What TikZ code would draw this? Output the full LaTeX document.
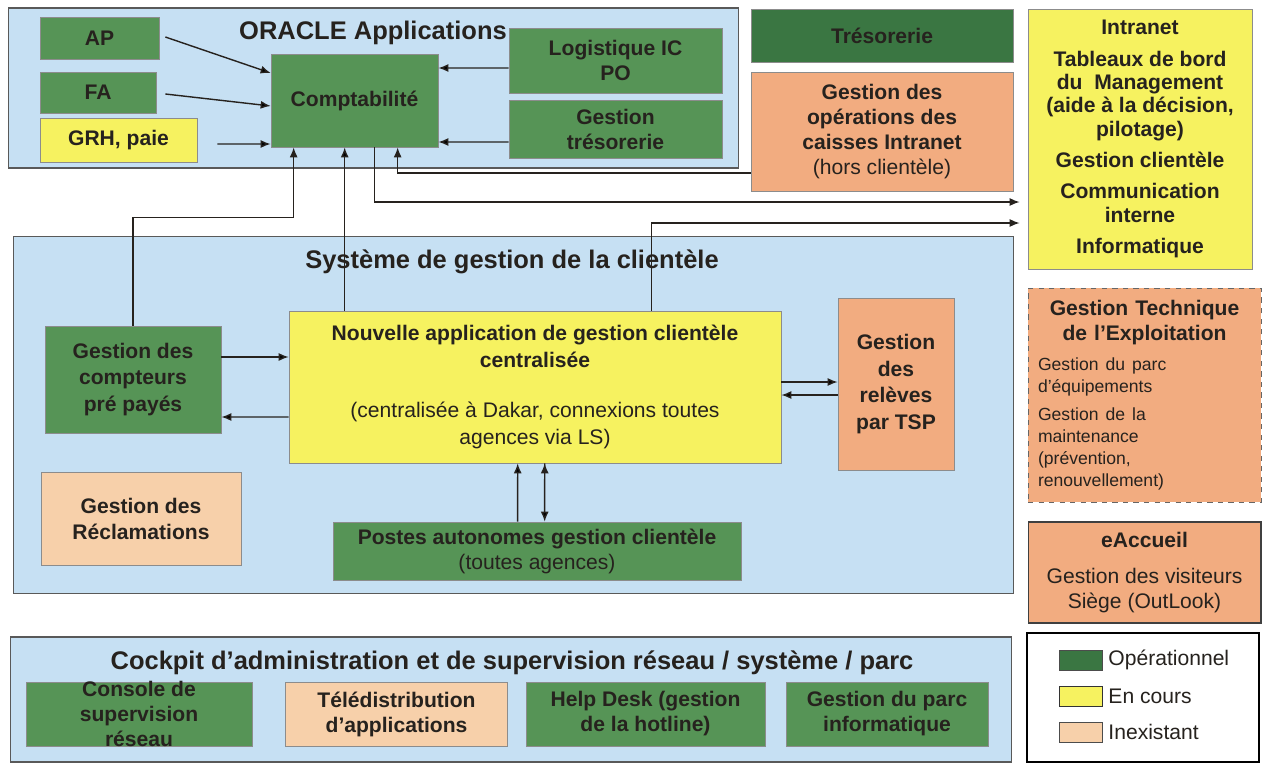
\documentclass[tikz,border=0pt]{standalone}
\usepackage{fontspec}
\setmainfont{Liberation Sans}
\usetikzlibrary{calc,arrows.meta,positioning}

\definecolor{opgreen}{RGB}{86,148,86}
\definecolor{opdark}{RGB}{58,118,66}
\definecolor{ecyellow}{RGB}{246,242,96}
\definecolor{inorange}{RGB}{242,172,128}
\definecolor{inpeach}{RGB}{247,208,170}
\definecolor{zoneblue}{RGB}{198,224,243}
\definecolor{txt}{RGB}{38,34,30}
\newcommand{\petitfont}{\fontsize{10}{12.5}\selectfont\mdseries}

\begin{document}
\begin{tikzpicture}[x=0.02cm, y=-0.02cm, text=txt,
    font=\fontsize{12}{14.2}\selectfont\bfseries,
    >={Latex[length=2mm,width=1.6mm]},
    bloc/.style={draw=black!45, line width=0.4pt, inner sep=2pt, align=center},
    opbox/.style={bloc, fill=opgreen},
    ecbox/.style={bloc, fill=ecyellow},
    inbox/.style={bloc, fill=inorange},
    pebox/.style={bloc, fill=inpeach},
    zone/.style={draw=black!65, line width=0.6pt, fill=zoneblue},
    titre/.style={font=\fontsize{14.5}{17}\selectfont\bfseries},
    fl/.style={->, line width=0.8pt, draw=txt},
    swatch/.style={draw=black!70, minimum width=0.86cm, minimum height=0.4cm, inner sep=0pt},
    legtxt/.style={inner sep=1pt, font=\fontsize{12}{14}\selectfont\mdseries}]
  \useasboundingbox (0,0) rectangle (1264,764);

  \node[zone, minimum width=14.62cm, minimum height=3.2cm] (oracle) at (373.5,88) {};
  \node[titre] (toracle) at (373,33) {ORACLE Applications};
  \node[zone, minimum width=20.02cm, minimum height=7.16cm] (sgc) at (513.5,415) {};
  \node[titre] (tsgc) at (512,262) {Système de gestion de la clientèle};
  \node[zone, minimum width=20.04cm, minimum height=2.5cm] (cockpit) at (511,699.5) {};
  \node[titre] (tcockpit) at (512,663) {Cockpit d'administration et de supervision réseau / système / parc};

  \node[opbox, minimum width=2.38cm, minimum height=0.84cm] (ap) at (99.5,38) {AP};
  \node[opbox, minimum width=2.32cm, minimum height=0.82cm] (fa) at (98,92.5) {FA};
  \node[ecbox, minimum width=3.14cm, minimum height=0.88cm] (grh) at (118.5,140) {GRH, paie};
  \node[opbox, minimum width=3.34cm, minimum height=1.86cm] (compta) at (354.5,100.5) {Comptabilité};
  \node[opbox, minimum width=4.26cm, minimum height=1.3cm] (logis) at (615.5,60.5) {Logistique IC\\PO};
  \node[opbox, minimum width=4.26cm, minimum height=1.16cm] (gtreso) at (615.5,129) {Gestion\\trésorerie};

  \node[opbox, fill=opdark, minimum width=5.24cm, minimum height=1.06cm] (treso) at (882,35.5) {Trésorerie};
  \node[inbox, minimum width=5.24cm, minimum height=2.38cm] (caisses) at (882,131.5)
    {Gestion des\\opérations des\\caisses Intranet\\\mdseries (hors clientèle)};
  \node[ecbox, minimum width=4.48cm, minimum height=5.2cm, font=\fontsize{12}{13.3}\selectfont\bfseries] (intra) at (1140,139)
    {Intranet\\[4.5pt]Tableaux de bord\\du~ Management\\(aide à la décision,\\pilotage)\\[4.5pt]Gestion clientèle\\[4.5pt]Communication\\interne\\[4.5pt]Informatique};

  \node[opbox, minimum width=3.52cm, minimum height=2.14cm, font=\fontsize{12}{15}\selectfont\bfseries] (cpt) at (133,379.5)
    {Gestion des\\compteurs\\pré payés};
  \node[ecbox, minimum width=9.84cm, minimum height=3.04cm, font=\fontsize{12}{15.3}\selectfont\bfseries] (nouvelle) at (535,387)
    {Nouvelle application de gestion clientèle\\centralisée\\[13.5pt]\mdseries (centralisée à Dakar, connexions toutes\\\mdseries agences via LS)};
  \node[inbox, minimum width=2.32cm, minimum height=3.44cm, font=\fontsize{12}{15.3}\selectfont\bfseries] (tsp) at (896,384)
    {Gestion\\des\\relèves\\par TSP};
  \node[pebox, minimum width=4.0cm, minimum height=1.86cm, font=\fontsize{12}{14.8}\selectfont\bfseries] (reclam) at (141,518.5)
    {Gestion des\\Réclamations};
  \node[opbox, minimum width=8.16cm, minimum height=1.16cm] (postes) at (537,551)
    {Postes autonomes gestion clientèle\\\mdseries (toutes agences)};

  \node[inbox, dashed, draw=black!60, minimum width=4.66cm, minimum height=4.28cm, text width=4.26cm, align=left] (gtech) at (1144.5,395)
    {{\centering Gestion Technique\\de l'Exploitation\par}\vspace{4.5pt}{\petitfont Gestion du parc\\d'équipements\par}\vspace{3.5pt}{\petitfont Gestion de la\\maintenance\\(prévention,\\renouvellement)\par}};
  \node[inbox, draw=black!75, line width=0.6pt, minimum width=4.66cm, minimum height=2.02cm] (eaccueil) at (1144.5,572.5)
    {eAccueil\\[6.5pt]\mdseries Gestion des visiteurs\\\mdseries Siège (OutLook)};

  \node[opbox, minimum width=4.52cm, minimum height=1.28cm,
    label={[align=center, text=txt]center:Console de\\supervision\\réseau}] (console) at (139,714) {};
  \node[pebox, minimum width=4.44cm, minimum height=1.28cm] (teledis) at (396.5,714) {Télédistribution\\d'applications};
  \node[opbox, minimum width=4.78cm, minimum height=1.28cm] (helpdesk) at (645.5,714) {Help Desk (gestion\\de la hotline)};
  \node[opbox, minimum width=4.04cm, minimum height=1.28cm] (gparc) at (887,714) {Gestion du parc\\informatique};

  \node[draw=black, line width=0.9pt, fill=white, minimum width=4.64cm, minimum height=2.58cm] (leg) at (1143,697.5) {};
  \node[swatch, fill=opdark] (s1) at (1080.5,660) {};
  \node[swatch, fill=ecyellow, draw=black!80] (s2) at (1080.5,696) {};
  \node[swatch, fill=inpeach] (s3) at (1080.5,732) {};
  \node[legtxt, right=0.08cm of s1] (l1) {Opérationnel};
  \node[legtxt, right=0.08cm of s2] (l2) {En cours};
  \node[legtxt, right=0.08cm of s3] (l3) {Inexistant};

  \coordinate (k1) at ($(compta.south west)+(23,70)$);
  \coordinate (k2) at ($(nouvelle.north west)+(56,0)$);
  \coordinate (k3) at ($(compta.south west)+(104,0)$);
  \coordinate (k4) at ($(compta.south west)+(127,0)$);
  \coordinate (k5) at ($(nouvelle.north west)+(363,0)$);

  \path[fl]
    ($(ap.east)+(6,-1)$) edge ($(compta.west)+(0,-27.5)$)
    ($(fa.east)+(9,1.5)$) edge ($(compta.west)+(0,5.5)$)
    ($(grh.east)+(20,4)$) edge ($(compta.west)+(0,43.5)$)
    ($(logis.west)+(0,7.5)$) edge ($(compta.east)+(0,-32.5)$)
    ($(gtreso.west)+(0,13)$) edge ($(compta.east)+(0,41.5)$)
    (k2) edge (k2 |- compta.south)
    ($(cpt.east)+(0,-22.5)$) edge ($(nouvelle.west)+(0,-30)$)
    ($(nouvelle.west)+(0,30)$) edge ($(cpt.east)+(0,37.5)$)
    ($(nouvelle.east)+(0,-5)$) edge ($(tsp.west)+(0,-2)$)
    ($(tsp.west)+(0,11)$) edge ($(nouvelle.east)+(0,8)$)
    ($(postes.north west)+(185,0)$) edge ($(nouvelle.south west)+(229,0)$)
    ($(nouvelle.south west)+(256,0)$) edge ($(postes.north west)+(212,0)$);
  \draw[fl] (cpt.north) |- (k1) -- (k1 |- compta.south);
  \draw[fl] (k3) |- ($(intra.west)+(-8,63)$);
  \draw[fl] ($(caisses.west)+(0,41.5)$) -| (k4);
  \draw[fl] (k5) |- ($(intra.west)+(-8,84)$);
\end{tikzpicture}
\end{document}
